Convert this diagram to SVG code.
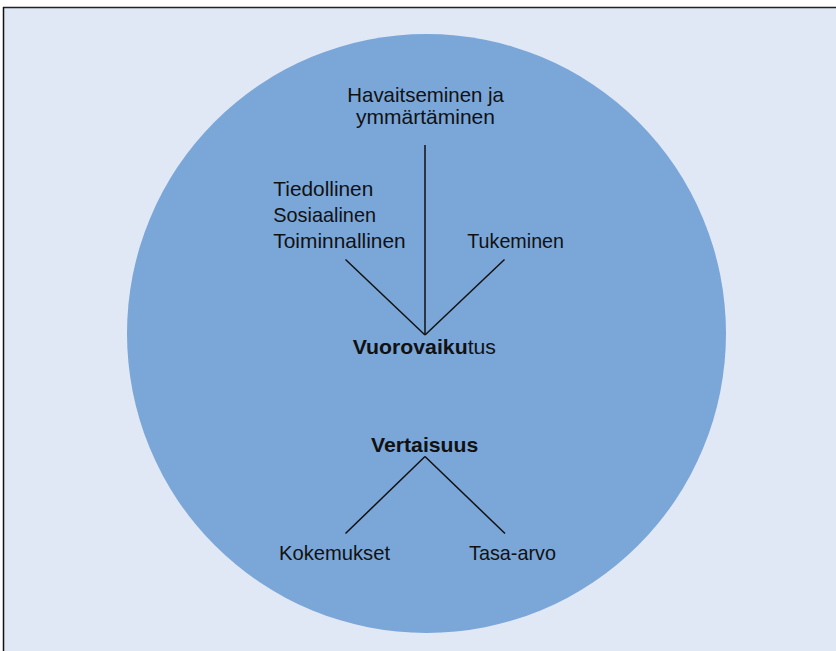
<svg xmlns="http://www.w3.org/2000/svg" width="836" height="651" viewBox="0 0 836 651">
<style>
.t{font-family:"Liberation Sans",Arial,sans-serif;font-size:21px;fill:#111}
.b{font-weight:bold}
.c{stroke:#111;stroke-width:1.5;fill:none}
</style>
<rect x="0" y="0" width="836" height="651" fill="#ffffff"/>
<rect x="3" y="7.5" width="833" height="643.5" fill="#E1E8F5"/>
<line x1="3" y1="7.5" x2="836" y2="7.5" stroke="#222" stroke-width="1.5"/>
<line x1="3.5" y1="7" x2="3.5" y2="651" stroke="#111" stroke-width="1.5"/>
<g id="circle"><circle cx="426.5" cy="333.5" r="299.5" fill="#7BA6D8"/></g>
<g id="connectors">
<line class="c" x1="425" y1="145" x2="425" y2="335"/>
<line class="c" x1="345.5" y1="259.5" x2="425" y2="335"/>
<line class="c" x1="504.5" y1="259.5" x2="425" y2="335"/>
<line class="c" x1="425" y1="456.5" x2="345.5" y2="533.5"/>
<line class="c" x1="425" y1="456.5" x2="505" y2="533.5"/>
</g>
<g id="havaitseminen">
<text class="t" x="347.3" y="101.7" textLength="156.7" lengthAdjust="spacingAndGlyphs">Havaitseminen ja</text>
<text class="t" x="356" y="124.2" textLength="139" lengthAdjust="spacingAndGlyphs">ymmärtäminen</text>
</g>
<g id="tiedollinen">
<text class="t" x="273.3" y="195.7" textLength="100" lengthAdjust="spacingAndGlyphs">Tiedollinen</text>
<text class="t" x="273.3" y="222" textLength="102.7" lengthAdjust="spacingAndGlyphs">Sosiaalinen</text>
<text class="t" x="273.3" y="248.3" textLength="132.4" lengthAdjust="spacingAndGlyphs">Toiminnallinen</text>
</g>
<g id="tukeminen">
<text class="t" x="467.3" y="248.3" textLength="96.7" lengthAdjust="spacingAndGlyphs">Tukeminen</text>
</g>
<g id="vuorovaikutus">
<text class="t" x="352.7" y="354.3" textLength="143.3" lengthAdjust="spacingAndGlyphs"><tspan class="b">Vuorovaiku</tspan>tus</text>
</g>
<g id="vertaisuus">
<text class="t b" x="371" y="451.7" textLength="107.3" lengthAdjust="spacingAndGlyphs">Vertaisuus</text>
</g>
<g id="kokemukset">
<text class="t" x="279" y="560" textLength="111" lengthAdjust="spacingAndGlyphs">Kokemukset</text>
</g>
<g id="tasa-arvo">
<text class="t" x="469" y="560" textLength="87" lengthAdjust="spacingAndGlyphs">Tasa-arvo</text>
</g>
</svg>
